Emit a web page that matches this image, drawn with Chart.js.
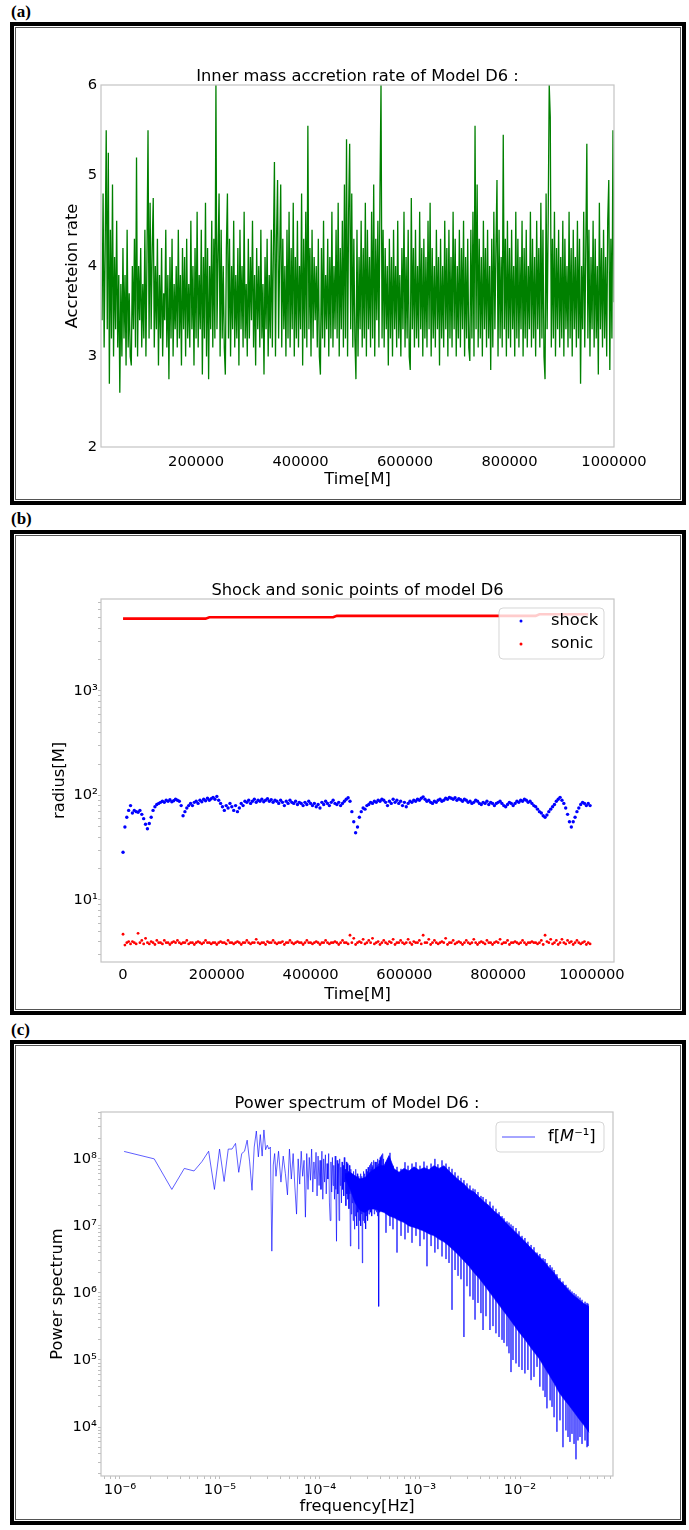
<!DOCTYPE html>
<html>
<head>
<meta charset="utf-8">
<script src="https://cdn.jsdelivr.net/npm/chart.js@4.4.1/dist/chart.umd.min.js"></script>
<style>
  html, body { margin: 0; padding: 0; background: #fff; }
  body { width: 689px; height: 1530px; position: relative; overflow: hidden; }
  .tag { position: absolute; left: 11px; font: bold 17px "Liberation Serif", "Times New Roman", serif; line-height: 17px; color: #000; }
  .frame { position: absolute; left: 10px; width: 676px; border: 4px solid #000; box-sizing: border-box; }
  .frame::after { content: ''; position: absolute; left: 1px; top: 1px; right: 1px; bottom: 1px; border: 1px solid #555; }
  canvas.panel { position: absolute; left: 0; }
</style>
</head>
<body>
<div class="tag" style="top:3px">(a)</div>
<div class="frame" style="top:22px;height:483px"></div>
<canvas id="chartA" class="panel" style="top:22px" width="689" height="483"></canvas>

<div class="tag" style="top:510px">(b)</div>
<div class="frame" style="top:530px;height:485px"></div>
<canvas id="chartB" class="panel" style="top:530px" width="689" height="485"></canvas>

<div class="tag" style="top:1021px">(c)</div>
<div class="frame" style="top:1040px;height:485px"></div>
<canvas id="chartC" class="panel" style="top:1040px" width="689" height="485"></canvas>

<script>
// ---------- (a) inner mass accretion rate ----------
const accT0 = 20000;
const accDt = 2000;
const accretion = [
  3.4, 4.8, 3.1, 4.2, 5.5, 3.3, 5.25, 2.7, 4.4, 3.2,
  4.9, 3.0, 4.1, 3.3, 4.5, 3.1, 3.9, 2.6, 3.8, 3.0,
  4.2, 3.2, 3.9, 2.9, 4.4, 3.1, 3.7, 3.0, 2.9, 4.0,
  3.3, 4.3, 3.1, 5.2, 3.0, 4.0, 3.4, 4.2, 3.1, 3.8,
  3.2, 4.4, 3.0, 4.1, 5.5, 3.2, 4.7, 3.3, 4.2, 4.75,
  3.1, 4.0, 3.3, 4.3, 2.9, 3.9, 3.2, 4.2, 3.0, 3.7,
  3.4, 4.4, 3.1, 3.9, 2.75, 4.1, 3.2, 4.3, 3.0, 3.8,
  3.3, 4.0, 3.1, 4.4, 3.2, 3.9, 2.9, 4.2, 3.3, 4.1,
  3.0, 4.3, 3.2, 3.8, 3.1, 4.5, 3.3, 4.0, 2.9, 4.2,
  3.2, 4.6, 3.1, 3.9, 3.3, 4.4, 2.8, 4.1, 3.2, 4.7,
  3.0, 4.2, 2.75, 4.0, 3.3, 4.5, 3.1, 4.3, 3.2, 6.0,
  3.3, 4.1, 4.8, 3.0, 4.4, 3.2, 4.0, 3.1, 2.8, 4.2,
  4.8, 3.2, 4.3, 3.0, 4.0, 3.3, 4.5, 3.1, 3.9, 3.2,
  4.2, 2.9, 4.4, 3.3, 4.0, 3.1, 4.6, 3.2, 3.8, 3.0,
  4.3, 3.2, 4.1, 3.4, 4.5, 3.1, 3.9, 2.9, 4.2, 3.3,
  4.0, 3.1, 4.4, 3.2, 3.8, 2.8, 4.1, 3.3, 4.3, 3.0,
  3.9, 3.2, 4.4, 3.1, 4.2, 5.15, 3.0, 4.3, 4.95, 3.2,
  4.1, 4.9, 3.1, 4.3, 3.3, 4.0, 3.0, 4.4, 3.2, 4.6,
  3.1, 4.2, 3.3, 4.7, 3.0, 4.1, 3.2, 4.5, 3.1, 4.0,
  3.3, 4.8, 2.9, 4.3, 3.2, 4.6, 3.1, 5.55, 3.3, 4.2,
  3.0, 4.4, 3.2, 4.1, 3.4, 4.0, 3.1, 4.3, 3.0, 2.8,
  4.2, 3.2, 4.5, 3.1, 3.9, 3.3, 4.3, 3.0, 4.1, 3.2,
  4.6, 3.1, 4.0, 3.3, 4.4, 3.2, 4.7, 3.0, 4.2, 3.3,
  4.5, 3.1, 4.9, 3.2, 5.4, 3.0, 4.6, 5.35, 3.3, 4.8,
  3.1, 4.3, 3.2, 2.75, 4.4, 3.0, 4.1, 3.3, 4.5, 3.1,
  4.2, 3.2, 4.7, 3.0, 4.4, 3.3, 4.1, 3.1, 4.6, 3.2,
  4.9, 3.0, 4.3, 3.4, 4.5, 3.1, 4.8, 6.0, 3.2, 4.4,
  3.1, 4.2, 3.3, 4.0, 2.9, 4.3, 3.2, 4.1, 3.0, 4.4,
  3.3, 4.0, 3.1, 4.5, 3.2, 3.9, 3.0, 4.2, 3.3, 4.6,
  3.1, 4.1, 3.2, 4.4, 3.0, 2.85, 4.75, 3.3, 4.2, 3.1,
  4.4, 3.2, 4.0, 3.1, 4.6, 3.3, 4.2, 3.0, 4.3, 3.2,
  4.1, 3.1, 4.5, 3.3, 4.7, 3.0, 4.2, 3.2, 4.0, 3.1,
  4.4, 3.3, 4.1, 2.9, 4.3, 3.2, 4.0, 3.1, 4.5, 3.3,
  4.2, 3.0, 4.4, 3.2, 4.1, 3.1, 4.6, 3.3, 4.3, 3.0,
  4.0, 3.2, 4.4, 3.1, 4.2, 3.3, 4.5, 3.0, 4.1, 3.2,
  4.3, 3.1, 2.95, 4.4, 3.2, 4.6, 3.0, 5.55, 3.3, 4.9,
  3.1, 4.3, 3.2, 4.1, 3.0, 4.5, 3.3, 4.2, 3.1, 4.4,
  3.2, 4.0, 2.85, 4.3, 3.1, 4.6, 3.3, 4.2, 4.95, 3.0,
  4.4, 3.2, 4.1, 3.1, 5.45, 3.3, 4.3, 3.0, 4.5, 3.2,
  4.2, 3.1, 4.4, 3.3, 4.0, 3.0, 4.6, 3.2, 4.3, 3.1,
  4.1, 3.3, 4.5, 3.0, 4.2, 3.2, 4.4, 3.1, 4.0, 3.3,
  4.6, 3.1, 4.3, 3.2, 4.1, 3.0, 4.5, 3.3, 4.2, 3.1,
  4.7, 3.2, 4.4, 3.0, 2.75, 4.8, 3.3, 4.5, 6.0, 5.65,
  3.1, 4.3, 3.2, 4.6, 3.0, 4.2, 3.3, 4.4, 3.1, 4.1,
  3.2, 4.5, 3.0, 4.3, 3.3, 4.0, 3.1, 4.6, 3.2, 4.2,
  3.0, 4.4, 3.3, 4.1, 3.1, 4.5, 3.2, 4.3, 2.7, 4.0,
  3.3, 4.6, 3.1, 4.2, 5.35, 3.2, 4.4, 3.0, 4.1, 3.3,
  4.5, 3.1, 4.3, 3.2, 4.0, 2.8, 4.7, 3.3, 4.2, 3.1,
  4.4, 3.2, 4.1, 3.0, 4.5, 4.95, 2.85, 4.3, 3.2, 5.5,
  3.6
];
const accTicksX = [200000, 400000, 600000, 800000, 1000000];
const accTicksY = [2, 3, 4, 5, 6];

// ---------- (b) shock and sonic points ----------
const radDt = 4000;
const shock = [
  28.6, 50, 62, 72, 80, 68, 72, 70, 69, 72,
  66, 60, 53, 48, 54, 62, 72, 78, 82, 84,
  86, 88, 86, 90, 88, 91, 87, 89, 92, 90,
  88, 80, 64, 70, 76, 80, 84, 80, 86, 88,
  84, 90, 87, 92, 89, 94, 90, 93, 96, 92,
  98, 90, 84, 78, 72, 80, 76, 84, 78, 72,
  80, 70, 76, 84, 80, 88, 86, 90, 84, 88,
  92, 86, 90, 88, 92, 87, 90, 93, 88, 91,
  86, 90, 88, 84, 90, 86, 80, 88, 84, 90,
  86, 84, 88, 82, 86, 84, 80, 86, 82, 88,
  84, 80, 84, 78, 82, 76, 86, 82, 88, 84,
  80, 86, 90, 84, 82, 86, 80, 84, 88, 92,
  95, 88, 70, 56, 44, 50, 62, 70, 76, 74,
  80, 82, 86, 84, 88, 86, 90, 88, 92, 90,
  86, 80, 88, 84, 92, 86, 90, 84, 88, 80,
  86, 78, 84, 88, 86, 90, 88, 92, 90, 94,
  97, 92, 88, 90, 86, 84, 88, 86, 90, 92,
  88, 90, 94, 92, 96, 94, 92, 95, 90, 93,
  91, 88, 92, 90, 86, 88, 84, 86, 90, 88,
  84, 82, 86, 84, 88, 82, 86, 84, 80, 84,
  86, 88, 84, 80, 78, 82, 86, 84, 80, 84,
  88, 86, 90, 88, 92, 90, 86, 88, 84, 80,
  78, 74, 70, 68, 64, 62, 65, 70, 74, 78,
  82, 88, 92, 96, 90, 84, 76, 66, 56, 50,
  56, 62, 70, 76, 82, 86, 84, 80, 84, 80
];
const sonic = [
  4.7, 3.7, 3.9, 4.0, 3.8, 4.0, 3.9, 3.8, 4.8, 3.9,
  4.1, 3.8, 4.3, 3.9, 3.8, 4.0, 3.9, 3.75, 4.1, 3.9,
  3.9, 3.8, 4.1, 3.9, 3.9, 3.75, 3.9, 4.0, 3.9, 4.1,
  3.9, 3.8, 3.9, 3.9, 4.1, 3.8, 3.9, 3.9, 3.75, 3.9,
  4.0, 3.9, 3.8, 3.9, 4.1, 3.9, 3.9, 3.8, 3.9, 3.9,
  3.75, 3.9, 4.0, 3.9, 3.9, 3.8, 4.1, 3.9, 3.9, 3.8,
  3.9, 4.0, 3.9, 3.75, 3.9, 3.9, 4.1, 3.9, 3.8, 3.9,
  3.9, 4.2, 3.9, 3.8, 3.9, 3.9, 3.75, 4.0, 3.9, 3.9,
  4.1, 3.9, 3.8, 3.9, 3.9, 4.0, 3.75, 3.9, 3.9, 4.1,
  3.9, 3.8, 3.9, 4.0, 3.9, 3.9, 3.75, 3.9, 4.1, 3.9,
  3.9, 3.8, 3.9, 4.0, 3.9, 3.75, 3.9, 3.9, 4.1, 3.9,
  3.8, 3.9, 3.9, 4.0, 3.9, 3.75, 3.9, 4.1, 3.9, 3.9,
  3.8, 4.6, 3.9, 4.3, 3.75, 3.9, 4.0, 3.9, 4.2, 3.8,
  3.9, 4.1, 3.9, 4.3, 3.8, 3.9, 4.0, 3.75, 3.9, 4.1,
  3.9, 3.8, 4.0, 3.9, 4.2, 3.75, 3.9, 3.9, 4.1, 3.9,
  3.8, 3.9, 4.2, 3.9, 3.75, 4.0, 3.9, 3.9, 4.1, 3.8,
  4.6, 3.9, 3.9, 4.2, 3.75, 3.9, 4.1, 3.9, 3.8, 3.9,
  4.0, 3.9, 4.3, 3.75, 3.9, 3.9, 4.1, 3.8, 3.9, 4.0,
  3.9, 3.75, 3.9, 4.1, 3.9, 3.8, 3.9, 4.2, 3.9, 3.75,
  3.9, 4.0, 3.9, 3.8, 4.1, 3.9, 3.9, 3.75, 3.9, 4.0,
  3.9, 4.2, 3.8, 3.9, 3.9, 4.1, 3.75, 3.9, 3.9, 4.0,
  3.9, 3.8, 3.9, 4.1, 3.9, 3.75, 3.9, 3.9, 4.0, 3.9,
  3.9, 3.8, 3.9, 4.1, 3.75, 4.6, 4.0, 3.9, 4.2, 3.8,
  3.9, 4.1, 3.75, 3.9, 4.2, 3.9, 3.8, 4.1, 3.9, 4.0,
  3.75, 3.9, 4.1, 3.9, 3.8, 3.9, 4.0, 3.75, 3.9, 3.8
];
// outer sonic point, sampled every 8000 M
const outerDt = 8000;
const sonicOuter = [
  4920, 4920, 4920, 4920, 4920, 4920, 4920, 4920, 4920, 4920,
  4920, 4920, 4920, 4920, 4920, 4920, 4920, 4920, 4920, 4920,
  4920, 4920, 4920, 5070, 5070, 5070, 5070, 5070, 5070, 5070,
  5070, 5070, 5070, 5070, 5070, 5070, 5070, 5070, 5070, 5070,
  5070, 5070, 5070, 5070, 5070, 5070, 5070, 5070, 5070, 5070,
  5070, 5070, 5070, 5070, 5070, 5070, 5070, 5230, 5230, 5230,
  5230, 5230, 5230, 5230, 5230, 5230, 5230, 5230, 5230, 5230,
  5230, 5230, 5230, 5230, 5230, 5230, 5230, 5230, 5230, 5230,
  5230, 5230, 5230, 5230, 5230, 5230, 5230, 5230, 5230, 5230,
  5230, 5230, 5230, 5230, 5230, 5230, 5230, 5230, 5230, 5230,
  5230, 5230, 5230, 5230, 5230, 5230, 5230, 5230, 5230, 5230,
  5230, 5420, 5420, 5420, 5420, 5420, 5420, 5420, 5420, 5420,
  5420, 5420, 5420, 5420, 5420
];
const radTicksX = [0, 200000, 400000, 600000, 800000, 1000000];

// ---------- (c) power spectrum ----------
const dfBin = 1.1e-6;           // frequency resolution
const powerLow = [               // bins k = 1..32
  1.29e8, 1.0e8, 3.5e7, 7.2e7, 6.6e7, 9.1e7, 1.3e8, 3.5e7, 1.4e8, 4.6e7,
  1.4e8, 1.4e8, 1.7e8, 6.3e7, 1.2e8, 1.3e8, 1.9e8, 9.0e7, 3.4e7, 1.5e8,
  2.6e8, 1.07e8, 2.3e8, 1.1e8, 2.7e8, 1.37e8, 1.6e8, 1.4e8, 1.5e8, 4.2e6,
  8.1e7, 1.2e8
];
const midK0 = 33, midStep = 2;  // bins k = 33, 35, ... 399
const powerMid = [
  5.5e7, 1.3e8, 4.5e7, 1.1e8, 6.0e7, 2.9e7, 1.4e8, 5.0e7, 1.2e8, 3.8e7,
  1.5e7, 1.0e8, 4.2e7, 1.3e8, 5.5e7, 9.5e7, 1.35e7, 1.2e8, 3.5e7, 1.05e8,
  4.8e7, 1.4e8, 3.2e7, 9.0e7, 5.0e7, 1.25e8, 2.8e7, 1.1e8, 4.0e7, 9.5e7,
  3.5e7, 1.3e8, 2.5e7, 1.0e8, 4.5e7, 1.15e8, 3.0e7, 8.5e7, 5.0e7, 1.2e8,
  2.2e7, 1.2e7, 9.0e7, 3.2e7, 1.05e8, 4.0e7, 8.0e7, 2.5e7, 1.1e8, 3.5e7,
  5.9e6, 9.5e7, 3.0e7, 8.5e7, 1.2e7, 1.0e8, 4.0e7, 7.5e7, 2.2e7, 9.0e7,
  3.5e7, 8.0e7, 2.8e7, 1.05e8, 4.5e7, 7.0e7, 2.0e7, 9.0e7, 3.0e7, 8.5e7,
  2.5e7, 6.5e7, 1.8e7, 8.0e7, 3.0e7, 5.0e6, 7.0e7, 1.5e7, 6.0e7, 2.2e7,
  5.5e7, 1.2e7, 6.5e7, 1.8e7, 8.9e6, 5.0e7, 1.4e7, 7.0e7, 2.0e7, 4.5e7,
  1.0e7, 6.0e7, 1.6e7, 5.0e7, 4.5e6, 5.5e7, 1.2e7, 4.0e7, 1.8e7, 6.0e7,
  1.0e7, 4.5e7, 1.5e7, 5.5e7, 2.8e6, 5.0e7, 1.2e7, 6.5e7, 1.6e7, 4.8e7,
  1.1e7, 6.0e7, 2.0e7, 5.0e7, 9.0e6, 7.0e7, 1.4e7, 5.5e7, 1.8e7, 6.5e7,
  1.2e7, 7.5e7, 2.2e7, 6.0e7, 1.5e7, 8.0e7, 1.8e7, 6.5e7, 2.5e7, 8.5e7,
  1.6e7, 7.0e7, 2.0e7, 9.0e7, 1.4e7, 7.5e7, 2.5e7, 8.0e7, 1.8e7, 9.5e7,
  2.2e7, 8.0e7, 1.5e7, 7.0e7, 2.0e7, 9.0e7, 1.7e7, 8.5e7, 2.4e7, 7.5e7,
  1.6e7, 9.0e7, 2.0e7, 8.0e7, 1.4e7, 1.0e8, 2.2e7, 7.5e7, 1.8e7, 8.5e7,
  6.3e5, 9.5e7, 2.0e7, 8.0e7, 1.6e7, 1.05e8, 2.5e7, 9.0e7, 1.8e7, 1.1e8,
  2.2e7, 9.5e7, 1.7e7, 1.15e8, 2.0e7, 8.5e7, 1.9e7, 1.2e8, 2.4e7, 9.0e7,
  1.8e7, 1.0e8, 2.0e7, 8.0e7
];
// dense part: upper and lower edge of the solid band
const bandFreq = [
  1.78e-4, 2.00e-4, 2.24e-4, 2.51e-4, 2.82e-4, 3.16e-4, 3.55e-4, 3.98e-4,
  4.37e-4, 4.90e-4, 5.50e-4, 6.17e-4, 6.92e-4, 7.76e-4, 8.71e-4, 9.77e-4, 1.10e-3, 1.23e-3,
  1.38e-3, 1.55e-3, 1.74e-3, 1.95e-3, 2.19e-3, 2.45e-3, 2.75e-3, 3.09e-3, 3.47e-3, 3.89e-3,
  4.37e-3, 4.90e-3, 5.50e-3, 6.17e-3, 6.92e-3, 7.76e-3, 8.71e-3, 9.77e-3, 1.10e-2, 1.23e-2,
  1.38e-2, 1.55e-2, 1.74e-2, 1.95e-2, 2.19e-2, 2.45e-2, 2.75e-2, 3.09e-2, 3.47e-2, 3.89e-2,
  4.37e-2, 4.90e-2
];
const bandTop = [
  6.0e7, 6.3e7, 5.6e7, 5.0e7, 5.25e7, 6.3e7, 7.1e7, 7.9e7,
  7.9e7, 1.12e8, 7.1e7, 6.3e7, 7.2e7, 6.6e7, 7.6e7, 6.8e7, 7.4e7, 6.9e7,
  7.9e7, 7.2e7, 7.9e7, 6.6e7, 5.6e7, 4.8e7, 4.2e7, 3.5e7, 3.2e7, 2.7e7,
  2.3e7, 2.0e7, 1.66e7, 1.45e7, 1.2e7, 1.0e7, 8.5e6, 7.2e6, 6.0e6, 5.0e6,
  4.2e6, 3.5e6, 2.95e6, 2.4e6, 2.0e6, 1.58e6, 1.32e6, 1.07e6, 9.1e5, 7.9e5,
  6.9e5, 6.3e5
];
const bandBottom = [
  5.2e7, 3.5e7, 2.2e7, 1.7e7, 1.58e7, 1.78e7, 1.78e7, 1.66e7,
  1.58e7, 1.41e7, 1.32e7, 1.2e7, 1.12e7, 1.0e7, 9.5e6, 8.9e6, 8.3e6, 7.6e6,
  7.1e6, 6.3e6, 5.75e6, 5.0e6, 4.27e6, 3.63e6, 3.0e6, 2.5e6, 2.0e6, 1.66e6,
  1.32e6, 1.05e6, 8.3e5, 6.6e5, 5.25e5, 4.2e5, 3.3e5, 2.6e5, 2.1e5, 1.66e5,
  1.32e5, 1.05e5, 7.9e4, 6.0e4, 4.5e4, 3.3e4, 2.6e4, 2.1e4, 1.66e4, 1.32e4,
  1.05e4, 8.3e3
];
// single deep bins sticking out of the band
const spikeFreq = [
  4.57e-4, 5.01e-4, 5.37e-4, 5.89e-4, 6.46e-4, 7.08e-4, 7.59e-4, 8.32e-4, 9.12e-4, 1.00e-3,
  1.096e-3, 1.175e-3, 1.29e-3, 1.41e-3, 1.51e-3, 1.66e-3, 1.82e-3, 1.95e-3, 2.09e-3, 2.24e-3,
  2.40e-3, 2.57e-3, 2.75e-3, 2.95e-3, 3.16e-3, 3.39e-3, 3.55e-3, 3.80e-3, 4.07e-3, 4.27e-3,
  4.57e-3, 5.01e-3, 5.37e-3, 5.75e-3, 6.17e-3, 6.61e-3, 6.92e-3, 7.41e-3, 7.76e-3, 8.13e-3,
  8.51e-3, 9.12e-3, 9.77e-3, 1.047e-2, 1.12e-2, 1.20e-2, 1.29e-2, 1.38e-2, 1.48e-2, 1.58e-2,
  1.70e-2, 1.78e-2, 1.86e-2, 2.00e-2, 2.09e-2, 2.19e-2, 2.34e-2, 2.51e-2, 2.69e-2, 2.88e-2,
  3.02e-2, 3.16e-2, 3.31e-2, 3.47e-2, 3.63e-2, 3.80e-2, 3.98e-2, 4.17e-2, 4.47e-2, 4.68e-2,
  4.79e-2
];
const spikeTop = [
  8.9e7, 1.23e8, 7.9e7, 7.6e7, 7.1e7, 8.9e7, 7.9e7, 8.5e7, 8.9e7, 7.9e7,
  9.1e7, 7.9e7, 8.5e7, 1.0e8, 8.3e7, 9.5e7, 8.5e7, 7.6e7, 7.1e7, 6.3e7,
  5.6e7, 5.2e7, 4.8e7, 4.3e7, 4.0e7, 3.6e7, 3.5e7, 3.2e7, 2.8e7, 2.7e7,
  2.5e7, 2.3e7, 2.0e7, 1.8e7, 1.6e7, 1.4e7, 1.3e7, 1.17e7, 1.12e7, 1.05e7,
  1.0e7, 9.3e6, 8.3e6, 7.1e6, 6.6e6, 5.8e6, 5.2e6, 4.8e6, 4.0e6, 3.8e6,
  3.3e6, 3.2e6, 2.8e6, 2.6e6, 2.4e6, 2.2e6, 1.9e6, 1.66e6, 1.48e6, 1.32e6,
  1.2e6, 1.12e6, 1.05e6, 1.0e6, 9.5e5, 8.9e5, 8.5e5, 7.9e5, 7.4e5, 7.1e5,
  6.9e5
];
const spikeLow = [
  7.9e6, 1.0e7, 8.9e6, 4.0e6, 7.1e6, 6.3e6, 7.9e6, 5.6e6, 7.1e6, 5.0e6,
  6.3e6, 2.5e6, 5.0e6, 4.0e6, 4.5e6, 3.5e6, 3.2e6, 2.8e6, 5.6e5, 2.2e6,
  1.8e6, 1.6e6, 2.2e5, 1.26e6, 8.9e5, 7.9e5, 4.0e5, 7.1e5, 5.0e5, 2.8e5,
  4.5e5, 2.8e5, 3.2e5, 2.5e5, 2.2e5, 2.0e5, 1.8e5, 1.6e5, 1.26e5, 6.6e4,
  1.0e5, 8.9e4, 7.9e4, 7.1e4, 6.3e4, 7.1e4, 5.0e4, 5.6e4, 7.9e4, 4.0e4,
  3.5e4, 2.8e4, 1.9e4, 2.5e4, 2.0e4, 1.4e4, 8.5e3, 1.26e4, 5.0e3, 8.9e3,
  7.1e3, 6.0e3, 7.9e3, 5.6e3, 3.3e3, 6.3e3, 7.1e3, 5.6e3, 6.3e3, 5.0e3,
  5.2e3
];

// ---------- helpers ----------
Chart.defaults.font.family = '"DejaVu Sans", "Noto Sans", sans-serif';
Chart.defaults.color = '#000';

const TICK_SIZE = 14.7;
const LABEL_SIZE = 16.3;

function supDigits(n) {
  const map = {'-': '⁻', '0': '⁰', '1': '¹', '2': '²', '3': '³', '4': '⁴',
               '5': '⁵', '6': '⁶', '7': '⁷', '8': '⁸', '9': '⁹'};
  return String(n).split('').map(c => map[c]).join('');
}

function decadeLabel(v) {
  const e = Math.round(Math.log10(v));
  return Math.abs(v / Number('1e' + e) - 1) < 1e-6 ? '10' + supDigits(e) : '';
}

// all 1..9 x 10^n positions inside the axis range (minor ticks of a log axis)
function logTicks(min, max) {
  const out = [];
  for (let e = Math.floor(Math.log10(min)); e <= Math.ceil(Math.log10(max)); e++) {
    for (let m = 1; m < 10; m++) {
      const v = Number(m + 'e' + e);
      if (v >= min && v <= max) out.push({value: v});
    }
  }
  return out;
}

// title centred over the plot area, ~8px above it
function titleOpts(text) {
  return {
    display: true, text: text, color: '#000', fullSize: false,
    font: {size: LABEL_SIZE, weight: 'normal', lineHeight: 1.0},
    padding: {top: 0, bottom: 0}
  };
}

const linGrid = {display: false, drawTicks: false};
const logGrid = {display: true, drawOnChartArea: false, drawTicks: true, tickLength: 3, color: '#bdbdbd'};

// light grey box round the plot area
const spines = {
  id: 'spines',
  afterDatasetsDraw(chart) {
    const {ctx, chartArea: a} = chart;
    ctx.save();
    ctx.strokeStyle = '#c4c4c4';
    ctx.lineWidth = 1.2;
    ctx.strokeRect(a.left, a.top, a.right - a.left, a.bottom - a.top);
    ctx.restore();
  }
};

function legendBox(ctx, x, y, w, h) {
  ctx.beginPath();
  ctx.roundRect(x, y, w, h, 4);
  ctx.fillStyle = 'rgba(255,255,255,0.8)';
  ctx.fill();
  ctx.strokeStyle = 'rgba(204,204,204,0.8)';
  ctx.lineWidth = 1;
  ctx.stroke();
}

// ---------- chart (a) ----------
const accPoints = accretion.map((v, i) => ({x: accT0 + i * accDt, y: v}));

new Chart(document.getElementById('chartA'), {
  type: 'line',
  data: {
    datasets: [{
      data: accPoints,
      borderColor: 'rgb(0,128,0)',
      borderWidth: 1.3,
      pointRadius: 0,
      tension: 0
    }]
  },
  options: {
    responsive: false,
    animation: false,
    events: [],
    layout: {padding: {top: 46.7, left: 16, right: 75, bottom: 8}},
    plugins: {
      legend: {display: false},
      tooltip: {enabled: false},
      title: titleOpts('Inner mass accretion rate of Model D6 :')
    },
    scales: {
      x: {
        type: 'linear', min: 18000, max: 1000000, bounds: 'data',
        grid: linGrid, border: {display: false},
        afterBuildTicks: s => { s.ticks = accTicksX.map(v => ({value: v})); },
        afterFit: s => { s.height = 50; },
        ticks: {padding: 6, font: {size: TICK_SIZE}, autoSkip: false, maxRotation: 0, callback: v => String(v)},
        title: {display: true, text: 'Time[M]', font: {size: LABEL_SIZE}, padding: {top: 0, bottom: 7}}
      },
      y: {
        type: 'linear', min: 2, max: 6, bounds: 'data',
        grid: linGrid, border: {display: false},
        afterBuildTicks: s => { s.ticks = accTicksY.map(v => ({value: v})); },
        afterFit: s => { s.width = 85; },
        ticks: {padding: 4, font: {size: TICK_SIZE}, callback: v => String(v)},
        title: {display: true, text: 'Accreteion rate', font: {size: LABEL_SIZE}, padding: {top: 47, bottom: 0}}
      }
    }
  },
  plugins: [spines]
});

// ---------- chart (b) ----------
const shockPts = shock.map((v, i) => ({x: i * radDt, y: v}));
const sonicPts = sonic.map((v, i) => ({x: i * radDt, y: v}));
const outerPts = sonicOuter.map((v, i) => ({x: i * outerDt, y: v}));

const legendB = {
  id: 'legendB',
  afterDraw(chart) {
    const {ctx, chartArea: a} = chart;
    const w = 105, h = 51;
    const x = a.right - 10 - w, y = a.top + 9;
    ctx.save();
    legendBox(ctx, x, y, w, h);
    const items = [['shock', '#0000ff'], ['sonic', '#ff0000']];
    items.forEach(([label, color], i) => {
      const cy = y + 13 + i * 23;
      ctx.fillStyle = color;
      ctx.beginPath();
      ctx.arc(x + 22, cy, 1.5, 0, Math.PI * 2);
      ctx.fill();
      ctx.fillStyle = '#000';
      ctx.font = LABEL_SIZE + 'px "DejaVu Sans"';
      ctx.textBaseline = 'middle';
      ctx.fillText(label, x + 52, cy);
    });
    ctx.restore();
  }
};

new Chart(document.getElementById('chartB'), {
  type: 'scatter',
  data: {
    datasets: [
      {label: 'shock', data: shockPts, pointRadius: 1.7, pointBorderWidth: 0, backgroundColor: '#0000ff'},
      {label: 'sonic', data: sonicPts, pointRadius: 1.4, pointBorderWidth: 0, backgroundColor: '#ff0000'},
      {label: 'sonic', data: outerPts, showLine: true, borderColor: '#ff0000', borderWidth: 2.6, pointRadius: 0}
    ]
  },
  options: {
    responsive: false,
    animation: false,
    events: [],
    layout: {padding: {top: 52.7, left: 16, right: 75, bottom: 8}},
    plugins: {
      legend: {display: false},
      tooltip: {enabled: false},
      title: titleOpts('Shock and sonic points of model D6')
    },
    scales: {
      x: {
        type: 'linear', min: -47000, max: 1047000, bounds: 'data',
        grid: linGrid, border: {display: false},
        afterBuildTicks: s => { s.ticks = radTicksX.map(v => ({value: v})); },
        afterFit: s => { s.height = 45; },
        ticks: {padding: 4, font: {size: TICK_SIZE}, autoSkip: false, maxRotation: 0, callback: v => String(v)},
        title: {display: true, text: 'Time[M]', font: {size: LABEL_SIZE}, padding: {top: 0, bottom: 2}}
      },
      y: {
        type: 'logarithmic', min: 2.55, max: 7590, bounds: 'data',
        grid: logGrid, border: {display: false},
        afterBuildTicks: s => { s.ticks = logTicks(2.55, 7590); },
        afterFit: s => { s.width = 85; },
        ticks: {padding: 0, font: {size: TICK_SIZE}, autoSkip: false, callback: v => decadeLabel(v)},
        title: {display: true, text: 'radius[M]', font: {size: LABEL_SIZE}, padding: {top: 34, bottom: 0}}
      }
    }
  },
  plugins: [spines, legendB]
});

// ---------- chart (c) ----------
const psdPts = [];
powerLow.forEach((p, i) => psdPts.push({x: (i + 1) * dfBin, y: p}));
powerMid.forEach((p, i) => psdPts.push({x: (midK0 + i * midStep) * dfBin, y: p}));
const bandTopPts = bandFreq.map((f, i) => ({x: f, y: bandTop[i]}));
const bandBottomPts = bandFreq.map((f, i) => ({x: f, y: bandBottom[i]}));
const spikePts = [];
spikeFreq.forEach((f, i) => {
  spikePts.push({x: f, y: spikeTop[i]}, {x: f, y: spikeLow[i]}, {x: f, y: null});
});

const legendC = {
  id: 'legendC',
  afterDraw(chart) {
    const {ctx, chartArea: a} = chart;
    const w = 108, h = 30;
    const x = a.right - 9 - w, y = a.top + 10;
    const cy = y + h / 2;
    ctx.save();
    legendBox(ctx, x, y, w, h);
    ctx.strokeStyle = 'rgba(0,0,255,0.7)';
    ctx.lineWidth = 1;
    ctx.beginPath();
    ctx.moveTo(x + 6, cy);
    ctx.lineTo(x + 39, cy);
    ctx.stroke();
    ctx.fillStyle = '#000';
    ctx.textBaseline = 'middle';
    let tx = x + 52;
    const parts = [['f[', 'normal'], ['M', 'italic'], ['⁻¹]', 'normal']];
    parts.forEach(([t, style]) => {
      ctx.font = style + ' ' + LABEL_SIZE + 'px "DejaVu Sans"';
      ctx.fillText(t, tx, cy);
      tx += ctx.measureText(t).width;
    });
    ctx.restore();
  }
};

new Chart(document.getElementById('chartC'), {
  type: 'line',
  data: {
    datasets: [
      {data: psdPts, borderColor: 'rgba(0,0,255,0.7)', borderWidth: 0.9, pointRadius: 0, tension: 0},
      {data: bandBottomPts, borderColor: 'rgba(0,0,255,0.6)', borderWidth: 0.8, pointRadius: 0, tension: 0, fill: false},
      {data: bandTopPts, borderColor: 'rgba(0,0,255,0.8)', borderWidth: 0.9, pointRadius: 0, tension: 0,
       fill: '-1', backgroundColor: '#0000ff'},
      {data: spikePts, borderColor: 'rgba(0,0,255,0.55)', borderWidth: 1, pointRadius: 0, tension: 0, spanGaps: false}
    ]
  },
  options: {
    responsive: false,
    animation: false,
    events: [],
    layout: {padding: {top: 55.7, left: 16, right: 76, bottom: 6}},
    plugins: {
      legend: {display: false},
      tooltip: {enabled: false},
      title: titleOpts('Power spectrum of Model D6 :')
    },
    scales: {
      x: {
        type: 'logarithmic', min: 6.46e-7, max: 0.0851, bounds: 'data',
        grid: logGrid, border: {display: false},
        afterBuildTicks: s => { s.ticks = logTicks(6.46e-7, 0.0851); },
        afterFit: s => { s.height = 43; },
        ticks: {padding: 2, font: {size: TICK_SIZE}, autoSkip: false, maxRotation: 0, callback: v => decadeLabel(v)},
        title: {display: true, text: 'frequency[Hz]', font: {size: LABEL_SIZE}, padding: {top: 0, bottom: 2}}
      },
      y: {
        type: 'logarithmic', min: 1860, max: 5.0e8, bounds: 'data',
        grid: logGrid, border: {display: false},
        afterBuildTicks: s => { s.ticks = logTicks(1860, 5.0e8); },
        afterFit: s => { s.width = 85; },
        ticks: {padding: 1, font: {size: TICK_SIZE}, autoSkip: false, callback: v => decadeLabel(v)},
        title: {display: true, text: 'Power spectrum', font: {size: LABEL_SIZE}, padding: {top: 32, bottom: 0}}
      }
    }
  },
  plugins: [spines, legendC]
});
</script>
</body>
</html>
